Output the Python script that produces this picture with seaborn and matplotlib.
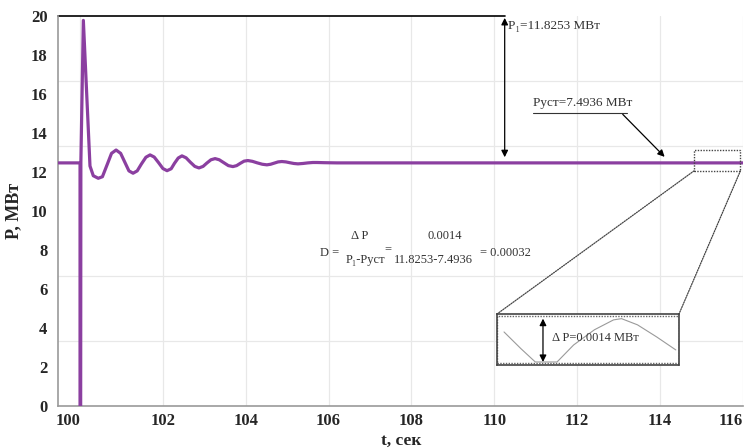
import numpy as np
import pandas as pd
import seaborn as sns
import matplotlib
matplotlib.use('Agg')
import matplotlib.pyplot as plt
from matplotlib.patches import Rectangle, ConnectionPatch

# power transient (t in s, P in the axis units)
t_sec = [99.48, 100.00, 100.00, 100.015, 100.02, 100.08, 100.24, 100.32, 100.44, 100.54,
         100.66, 100.76, 100.87, 100.98, 101.08, 101.18, 101.28, 101.38, 101.48,
         101.59, 101.69, 101.79, 101.90, 102.00, 102.10, 102.20, 102.28, 102.37,
         102.46, 102.56, 102.66, 102.77, 102.87, 102.97, 103.06, 103.16, 103.26,
         103.36, 103.47, 103.58, 103.69, 103.78, 103.87, 103.96, 104.05, 104.16,
         104.28, 104.40, 104.51, 104.60, 104.69, 104.78, 104.87, 104.97, 105.06,
         105.16, 105.26, 105.38, 105.50, 105.62, 105.72, 105.90, 106.20, 116.00]
p_mw = [12.46, 12.46, -0.5, -0.5, 12.5, 19.77, 12.30, 11.80, 11.67, 11.75,
        12.40, 12.95, 13.12, 12.95, 12.50, 12.05, 11.93, 12.05, 12.40,
        12.75, 12.87, 12.76, 12.46, 12.17, 12.06, 12.16, 12.44, 12.71,
        12.82, 12.72, 12.50, 12.28, 12.20, 12.28, 12.45, 12.62, 12.68,
        12.62, 12.47, 12.32, 12.27, 12.32, 12.44, 12.55, 12.58, 12.54,
        12.46, 12.39, 12.36, 12.39, 12.45, 12.51, 12.53, 12.51, 12.47,
        12.43, 12.41, 12.43, 12.46, 12.48, 12.48, 12.47, 12.46, 12.46]

# zoomed window (inset), P deviation in 1e-4 MW
zoom_t = [114.864, 114.97, 115.06, 115.196, 115.30, 115.43, 115.55, 115.60,
          115.70, 115.82, 115.94]
zoom_dp = [9.7, 4.3, 0.0, 0.0, 5.5, 10.4, 13.6, 14.0, 12.0, 8.1, 3.9]

x_ticks = [100, 102, 104, 106, 108, 110, 112, 114, 116]
y_ticks = [0, 2, 4, 6, 8, 10, 12, 14, 16, 18, 20]
y_grid = [0, 10 / 3, 20 / 3, 10, 40 / 3, 50 / 3, 20]

P1 = 11.8253
P_ust = 7.4936
dP = 0.0014
D = 0.00032

sns.set_theme(style='white')
plt.rcParams['font.family'] = ['Liberation Serif', 'DejaVu Serif']

line_col = '#8b3fa0'
txt_col = '#333333'

df = pd.DataFrame({'t': t_sec, 'P': p_mw})

fig = plt.figure(figsize=(7.48, 4.48), dpi=100)
ax = fig.add_axes([0.0782, 0.0944, 0.915, 0.870])

sns.lineplot(data=df, x='t', y='P', sort=False, estimator=None, ax=ax,
             color=line_col, linewidth=2.3, zorder=3)

ax.set_xlim(99.48, 116)
ax.set_ylim(0, 20)
ax.set_xticks(x_ticks)
ax.set_yticks(y_ticks)
ax.set_yticks(y_grid, minor=True)
ax.grid(True, axis='x', color='#e8e8e8', linewidth=0.9)
ax.grid(True, axis='y', which='minor', color='#e8e8e8', linewidth=0.9)
ax.tick_params(axis='y', which='major', length=0, pad=8, labelsize=12)
ax.tick_params(axis='y', which='minor', direction='in', length=5, color='#999999')
ax.tick_params(axis='x', direction='in', length=5, color='#999999', pad=5, labelsize=12)
for lab in ax.get_xticklabels() + ax.get_yticklabels():
    lab.set_fontweight('bold')
ax.get_xticklabels()[-1].set_horizontalalignment('right')
ax.get_xticklabels()[-1].set_x(116.1)
ax.get_xticklabels()[0].set_horizontalalignment('right')

for s in ['top', 'right']:
    ax.spines[s].set_visible(False)
for s in ['left', 'bottom']:
    ax.spines[s].set_color('#999999')
    ax.spines[s].set_linewidth(1.2)

ax.set_xlabel('t, сек', fontsize=12.5, fontweight='bold')
ax.xaxis.set_label_coords(0.5, -0.07)
ax.xaxis.label.set_verticalalignment('top')
ax.set_ylabel('P, МВт', fontsize=13, fontweight='bold', labelpad=6)

# P1 marker
ax.plot([99.48, 110.25], [20, 20], color='black', linewidth=1.2, clip_on=False)
ax.annotate('', xy=(110.25, 12.75), xytext=(110.25, 19.9),
            arrowprops=dict(arrowstyle='<|-|>', color='black', lw=0.9,
                            shrinkA=0, shrinkB=0, mutation_scale=10))
ax.text(110.33, 19.5, 'P₁=%.4f МВт' % P1, fontsize=9.5, color=txt_col,
        ha='left', va='center')

# steady state label
ax.text(110.93, 15.25, 'Pуст=%.4f МВт' % P_ust, fontsize=9.5, color=txt_col,
        ha='left', va='bottom')
ax.plot([110.93, 113.2], [15.0, 15.0], color=txt_col, linewidth=0.8)
ax.annotate('', xy=(114.11, 12.77), xytext=(113.1, 14.95),
            arrowprops=dict(arrowstyle='-|>', color='black', lw=0.9,
                            shrinkA=0, shrinkB=0, mutation_scale=10))

# formula
fs = 9
ax.text(105.79, 7.84, 'D =', fontsize=fs, color=txt_col, ha='left', va='center')
ax.text(106.75, 8.71, 'Δ P', fontsize=fs, color=txt_col, ha='center', va='center')
ax.text(106.90, 7.48, 'P₁-Pуст', fontsize=fs, color=txt_col, ha='center', va='center')
ax.text(107.43, 8.05, '=', fontsize=fs, color=txt_col, ha='center', va='center')
ax.text(108.81, 8.71, '%.4f' % dP, fontsize=fs, color=txt_col, ha='center', va='center')
ax.text(108.52, 7.48, '%.4f-%.4f' % (P1, P_ust), fontsize=fs, color=txt_col,
        ha='center', va='center')
ax.text(109.65, 7.84, '= %.5f' % D, fontsize=fs, color=txt_col, ha='left', va='center')

# zoom window on the main curve
ax.add_patch(Rectangle((114.82, 12.05), 1.12, 1.08, fill=False, edgecolor='#444444',
                       linestyle=(0, (1, 1)), linewidth=1.0, zorder=4))

# inset
axi = fig.add_axes([497 / 748, 1 - 365 / 448, 182 / 748, 51 / 448])
axi.set_facecolor('white')
zdf = pd.DataFrame({'t': zoom_t, 'dP': zoom_dp})
sns.lineplot(data=zdf, x='t', y='dP', sort=False, estimator=None, ax=axi,
             color='#9a9a9a', linewidth=0.8)
axi.set_xlim(114.82, 115.96)
axi.set_ylim(-0.97, 15.5)
axi.set_xticks([])
axi.set_yticks([])
axi.set_xlabel('')
axi.set_ylabel('')
for s in axi.spines.values():
    s.set_linestyle((0, (1, 1)))
    s.set_color('#444444')
    s.set_linewidth(1.2)
axi.add_patch(Rectangle((0.0, 0.04), 1.0, 0.92, transform=axi.transAxes, fill=False,
                        edgecolor='#666666', linestyle=(0, (1, 1)), linewidth=1.0))
axi.annotate('', xy=(115.108, 0.0), xytext=(115.108, 14.0),
             arrowprops=dict(arrowstyle='<|-|>', color='black', lw=0.9,
                             shrinkA=0, shrinkB=0, mutation_scale=10))
axi.text(115.165, 7.8, 'Δ P=%.4f МВт' % dP, fontsize=9, color=txt_col,
         ha='left', va='center')

for xa, xb in [(114.82, 0), (115.94, 1)]:
    con = ConnectionPatch(xyA=(xa, 12.05), coordsA=ax.transData,
                          xyB=(xb, 1), coordsB=axi.transAxes,
                          linestyle=(0, (1, 1)), color='#444444', linewidth=0.9)
    fig.add_artist(con)

fig.savefig('out.png', dpi=100)
